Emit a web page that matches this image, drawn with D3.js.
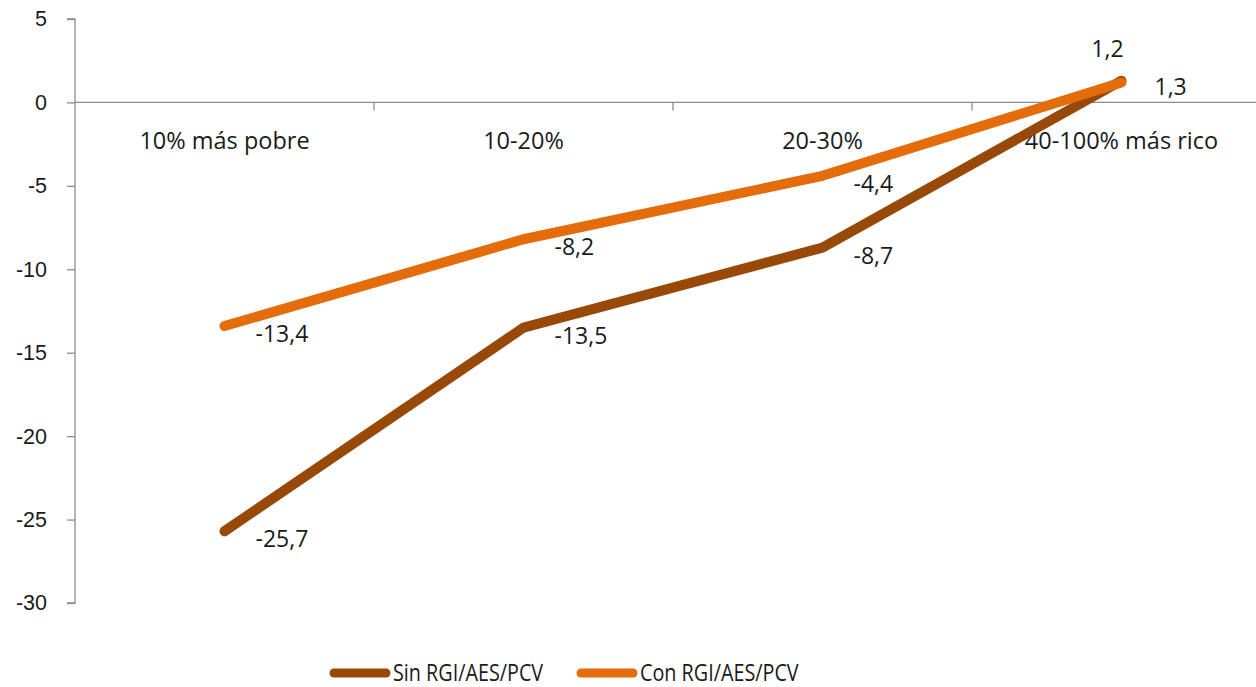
<!DOCTYPE html>
<meta charset="utf-8">
<style>
  body { margin: 0; background: #fff; }
  svg { font-family: "Open Sans", "DejaVu Sans", sans-serif; }
  .axis path, .axis line { stroke: #8c8c8c; stroke-width: 1.3; }
  .axis text { fill: #1a1a1a; font-size: 21.5px; }
  .serie { fill: none; stroke-width: 10; stroke-linecap: round; stroke-linejoin: round; }
  .lbl { fill: #1a1a1a; font-size: 23px; }
  .cat { fill: #1a1a1a; font-size: 23.5px; text-anchor: middle; }
  .legend text { fill: #1a1a1a; font-size: 23px; }
</style>
<body></body>
<script src="https://d3js.org/d3.v7.min.js"></script>
<script>

var categorias = ["10% más pobre", "10-20%", "20-30%", "40-100% más rico"];
var sinRGI = [-25.7, -13.5, -8.7, 1.3];
var conRGI = [-13.4, -8.2, -4.4, 1.2];
var yTicks = [5, 0, -5, -10, -15, -20, -25, -30];
var nombres = ["Sin RGI/AES/PCV", "Con RGI/AES/PCV"];
var colores = ["#984807", "#e46c0a"];

var W = 1256, H = 687;
var mLeft = 75, mTop = 19, mBottom = 603;

var svg = d3.select("body").append("svg")
    .attr("width", W)
    .attr("height", H);

var x = d3.scaleBand()
    .domain(categorias)
    .range([mLeft, mLeft + 4 * 299]);

var y = d3.scaleLinear()
    .domain([-30, 5])
    .range([mBottom, mTop]);

// coma decimal y guion normal, como en el original
var fmt = function(v) { return (v < 0 ? "-" : "") + d3.format(".1f")(Math.abs(v)).replace(".", ","); };

// eje y
svg.append("g")
    .attr("class", "axis")
    .attr("transform", "translate(" + mLeft + ",0)")
    .call(d3.axisLeft(y).tickValues(yTicks).tickSize(8).tickSizeOuter(8).tickPadding(20)
        .tickFormat(function(d) { return String(d); }))
    .select(".domain").attr("d", "M-8," + y(-30) + "H0V" + y(5) + "H-8");

// eje x en el cero, ticks entre categorias
var xg = svg.append("g").attr("class", "axis");
xg.append("line")
    .attr("x1", mLeft).attr("x2", W)
    .attr("y1", y(0)).attr("y2", y(0));
xg.selectAll(".tk")
    .data(categorias.slice(1))
    .enter().append("line")
    .attr("x1", function(d) { return x(d); })
    .attr("x2", function(d) { return x(d); })
    .attr("y1", y(0)).attr("y2", y(0) + 8);

svg.selectAll(".cat")
    .data(categorias)
    .enter().append("text")
    .attr("class", "cat")
    .attr("x", function(d) { return x(d) + x.bandwidth() / 2; })
    .attr("y", y(0) + 47)
    .text(function(d) { return d; });

var line = d3.line()
    .x(function(d, i) { return x(categorias[i]) + x.bandwidth() / 2; })
    .y(function(d) { return y(d); });

var series = [sinRGI, conRGI];
series.forEach(function(s, k) {
  svg.append("path")
      .attr("class", "serie")
      .attr("stroke", colores[k])
      .attr("d", line(s));
});

// etiquetas de datos
series.forEach(function(s, k) {
  svg.selectAll(".lbl" + k)
      .data(s)
      .enter().append("text")
      .attr("class", "lbl")
      .attr("x", function(d, i) {
        var cx = x(categorias[i]) + x.bandwidth() / 2;
        if (i == 3) return k == 0 ? cx + 33 : cx - 14;
        return cx + 31;
      })
      .attr("y", function(d, i) {
        if (i == 3) return k == 0 ? y(d) + 14 : y(d) - 25;
        return y(d) + 16;
      })
      .attr("text-anchor", function(d, i) { return (i == 3 && k == 1) ? "middle" : "start"; })
      .text(function(d) { return fmt(d); });
});

// leyenda
var legend = svg.append("g").attr("class", "legend");
var lx = [334, 581];
nombres.forEach(function(n, k) {
  legend.append("line")
      .attr("x1", lx[k]).attr("x2", lx[k] + 52)
      .attr("y1", 673).attr("y2", 673)
      .attr("stroke", colores[k])
      .attr("stroke-width", 9)
      .attr("stroke-linecap", "round");
  legend.append("text")
      .attr("transform", "translate(" + (lx[k] + 59) + ",681) scale(0.86,1)")
      .text(n);
});
</script>
